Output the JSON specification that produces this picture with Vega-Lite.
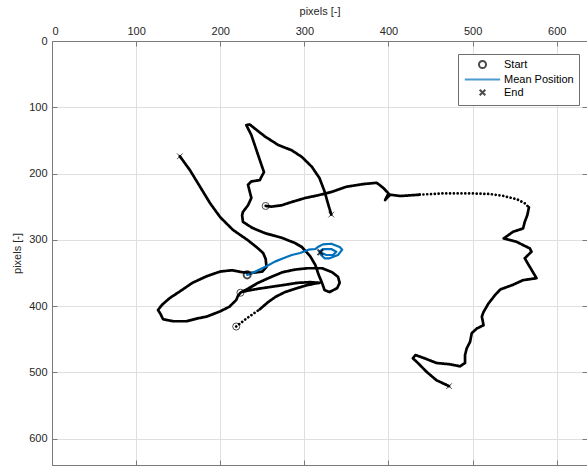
{
  "$schema": "https://vega.github.io/schema/vega-lite/v6.json",
  "width": 535,
  "height": 424,
  "autosize": {"type": "none"},
  "padding": {"left": 52, "top": 41, "right": 0, "bottom": 5},
  "background": "white",
  "config": {
    "view": {"stroke": null},
    "font": "Liberation Sans",
    "axis": {
      "labelFont": "Liberation Sans",
      "labelFontSize": 11,
      "labelColor": "#262626",
      "titleFont": "Liberation Sans",
      "titleFontSize": 11,
      "titleFontWeight": "normal",
      "titleColor": "#262626",
      "domainColor": "#7a7a7a",
      "tickColor": "#7a7a7a",
      "gridColor": "#dfdfdf",
      "tickSize": -5,
      "labelPadding": 10
    }
  },
  "datasets": {
    "tracks": [
      {"track": "A", "seg": "A1", "sampling": "dense", "i": 1, "x": 254, "y": 249},
      {"track": "A", "seg": "A1", "sampling": "dense", "i": 2, "x": 261, "y": 250},
      {"track": "A", "seg": "A1", "sampling": "dense", "i": 3, "x": 273, "y": 248},
      {"track": "A", "seg": "A1", "sampling": "dense", "i": 4, "x": 285, "y": 243},
      {"track": "A", "seg": "A1", "sampling": "dense", "i": 5, "x": 301, "y": 237},
      {"track": "A", "seg": "A1", "sampling": "dense", "i": 6, "x": 316, "y": 233},
      {"track": "A", "seg": "A1", "sampling": "dense", "i": 7, "x": 332, "y": 228},
      {"track": "A", "seg": "A1", "sampling": "dense", "i": 8, "x": 350, "y": 220},
      {"track": "A", "seg": "A1", "sampling": "dense", "i": 9, "x": 370, "y": 216},
      {"track": "A", "seg": "A1", "sampling": "dense", "i": 10, "x": 386, "y": 214},
      {"track": "A", "seg": "A1", "sampling": "dense", "i": 11, "x": 394, "y": 222},
      {"track": "A", "seg": "A1", "sampling": "dense", "i": 12, "x": 400, "y": 230},
      {"track": "A", "seg": "A1", "sampling": "dense", "i": 13, "x": 396, "y": 240},
      {"track": "A", "seg": "A1", "sampling": "dense", "i": 14, "x": 402, "y": 232},
      {"track": "A", "seg": "A1", "sampling": "dense", "i": 15, "x": 414, "y": 234},
      {"track": "A", "seg": "A1", "sampling": "dense", "i": 16, "x": 437, "y": 232},
      {"track": "A", "seg": "A2", "sampling": "sparse", "i": 16, "x": 437, "y": 232},
      {"track": "A", "seg": "A2", "sampling": "sparse", "i": 17, "x": 465, "y": 230},
      {"track": "A", "seg": "A2", "sampling": "sparse", "i": 18, "x": 497, "y": 230},
      {"track": "A", "seg": "A2", "sampling": "sparse", "i": 19, "x": 521, "y": 231},
      {"track": "A", "seg": "A2", "sampling": "sparse", "i": 20, "x": 537, "y": 234},
      {"track": "A", "seg": "A2", "sampling": "sparse", "i": 21, "x": 553, "y": 239},
      {"track": "A", "seg": "A2", "sampling": "sparse", "i": 22, "x": 562, "y": 245},
      {"track": "A", "seg": "A2", "sampling": "sparse", "i": 23, "x": 567, "y": 251},
      {"track": "A", "seg": "A3", "sampling": "dense", "i": 23, "x": 567, "y": 251},
      {"track": "A", "seg": "A3", "sampling": "dense", "i": 24, "x": 565, "y": 263},
      {"track": "A", "seg": "A3", "sampling": "dense", "i": 25, "x": 562, "y": 273},
      {"track": "A", "seg": "A3", "sampling": "dense", "i": 26, "x": 560, "y": 283},
      {"track": "A", "seg": "A3", "sampling": "dense", "i": 27, "x": 548, "y": 288},
      {"track": "A", "seg": "A3", "sampling": "dense", "i": 28, "x": 537, "y": 298},
      {"track": "A", "seg": "A3", "sampling": "dense", "i": 29, "x": 552, "y": 303},
      {"track": "A", "seg": "A3", "sampling": "dense", "i": 30, "x": 568, "y": 313},
      {"track": "A", "seg": "A3", "sampling": "dense", "i": 31, "x": 570, "y": 318},
      {"track": "A", "seg": "A3", "sampling": "dense", "i": 32, "x": 562, "y": 328},
      {"track": "A", "seg": "A3", "sampling": "dense", "i": 33, "x": 568, "y": 341},
      {"track": "A", "seg": "A3", "sampling": "dense", "i": 34, "x": 576, "y": 358},
      {"track": "A", "seg": "A3", "sampling": "dense", "i": 35, "x": 560, "y": 361},
      {"track": "A", "seg": "A3", "sampling": "dense", "i": 36, "x": 548, "y": 368},
      {"track": "A", "seg": "A3", "sampling": "dense", "i": 37, "x": 533, "y": 375},
      {"track": "A", "seg": "A3", "sampling": "dense", "i": 38, "x": 527, "y": 383},
      {"track": "A", "seg": "A3", "sampling": "dense", "i": 39, "x": 519, "y": 396},
      {"track": "A", "seg": "A3", "sampling": "dense", "i": 40, "x": 513, "y": 409},
      {"track": "A", "seg": "A3", "sampling": "dense", "i": 41, "x": 511, "y": 416},
      {"track": "A", "seg": "A3", "sampling": "dense", "i": 42, "x": 513, "y": 429},
      {"track": "A", "seg": "A3", "sampling": "dense", "i": 43, "x": 505, "y": 434},
      {"track": "A", "seg": "A3", "sampling": "dense", "i": 44, "x": 499, "y": 441},
      {"track": "A", "seg": "A3", "sampling": "dense", "i": 45, "x": 497, "y": 454},
      {"track": "A", "seg": "A3", "sampling": "dense", "i": 46, "x": 493, "y": 464},
      {"track": "A", "seg": "A3", "sampling": "dense", "i": 47, "x": 491, "y": 474},
      {"track": "A", "seg": "A3", "sampling": "dense", "i": 48, "x": 491, "y": 486},
      {"track": "A", "seg": "A3", "sampling": "dense", "i": 49, "x": 485, "y": 491},
      {"track": "A", "seg": "A3", "sampling": "dense", "i": 50, "x": 473, "y": 488},
      {"track": "A", "seg": "A3", "sampling": "dense", "i": 51, "x": 457, "y": 486},
      {"track": "A", "seg": "A3", "sampling": "dense", "i": 52, "x": 443, "y": 479},
      {"track": "A", "seg": "A3", "sampling": "dense", "i": 53, "x": 432, "y": 474},
      {"track": "A", "seg": "A3", "sampling": "dense", "i": 54, "x": 429, "y": 479},
      {"track": "A", "seg": "A3", "sampling": "dense", "i": 55, "x": 435, "y": 486},
      {"track": "A", "seg": "A3", "sampling": "dense", "i": 56, "x": 445, "y": 499},
      {"track": "A", "seg": "A3", "sampling": "dense", "i": 57, "x": 457, "y": 512},
      {"track": "A", "seg": "A3", "sampling": "dense", "i": 58, "x": 472, "y": 521},

      {"track": "B", "seg": "B1", "sampling": "dense", "i": 1, "x": 224, "y": 380},
      {"track": "B", "seg": "B1", "sampling": "dense", "i": 2, "x": 221, "y": 385},
      {"track": "B", "seg": "B1", "sampling": "dense", "i": 3, "x": 219, "y": 391},
      {"track": "B", "seg": "B1", "sampling": "dense", "i": 4, "x": 211, "y": 401},
      {"track": "B", "seg": "B1", "sampling": "dense", "i": 5, "x": 200, "y": 408},
      {"track": "B", "seg": "B1", "sampling": "dense", "i": 6, "x": 184, "y": 416},
      {"track": "B", "seg": "B1", "sampling": "dense", "i": 7, "x": 172, "y": 419},
      {"track": "B", "seg": "B1", "sampling": "dense", "i": 8, "x": 160, "y": 423},
      {"track": "B", "seg": "B1", "sampling": "dense", "i": 9, "x": 144, "y": 423},
      {"track": "B", "seg": "B1", "sampling": "dense", "i": 10, "x": 132, "y": 420},
      {"track": "B", "seg": "B1", "sampling": "dense", "i": 11, "x": 129, "y": 412},
      {"track": "B", "seg": "B1", "sampling": "dense", "i": 12, "x": 126, "y": 406},
      {"track": "B", "seg": "B1", "sampling": "dense", "i": 13, "x": 131, "y": 398},
      {"track": "B", "seg": "B1", "sampling": "dense", "i": 14, "x": 140, "y": 388},
      {"track": "B", "seg": "B1", "sampling": "dense", "i": 15, "x": 152, "y": 378},
      {"track": "B", "seg": "B1", "sampling": "dense", "i": 16, "x": 167, "y": 365},
      {"track": "B", "seg": "B1", "sampling": "dense", "i": 17, "x": 184, "y": 355},
      {"track": "B", "seg": "B1", "sampling": "dense", "i": 18, "x": 200, "y": 348},
      {"track": "B", "seg": "B1", "sampling": "dense", "i": 19, "x": 214, "y": 346},
      {"track": "B", "seg": "B1", "sampling": "dense", "i": 20, "x": 226, "y": 349},
      {"track": "B", "seg": "B1", "sampling": "dense", "i": 21, "x": 238, "y": 350},
      {"track": "B", "seg": "B1", "sampling": "dense", "i": 22, "x": 250, "y": 348},
      {"track": "B", "seg": "B1", "sampling": "dense", "i": 23, "x": 255, "y": 341},
      {"track": "B", "seg": "B1", "sampling": "dense", "i": 24, "x": 254, "y": 329},
      {"track": "B", "seg": "B1", "sampling": "dense", "i": 25, "x": 251, "y": 320},
      {"track": "B", "seg": "B1", "sampling": "dense", "i": 26, "x": 244, "y": 312},
      {"track": "B", "seg": "B1", "sampling": "dense", "i": 27, "x": 232, "y": 300},
      {"track": "B", "seg": "B1", "sampling": "dense", "i": 28, "x": 215, "y": 285},
      {"track": "B", "seg": "B1", "sampling": "dense", "i": 29, "x": 200, "y": 266},
      {"track": "B", "seg": "B1", "sampling": "dense", "i": 30, "x": 188, "y": 245},
      {"track": "B", "seg": "B1", "sampling": "dense", "i": 31, "x": 176, "y": 220},
      {"track": "B", "seg": "B1", "sampling": "dense", "i": 32, "x": 164, "y": 195},
      {"track": "B", "seg": "B1", "sampling": "dense", "i": 33, "x": 152, "y": 174},

      {"track": "C", "seg": "C1", "sampling": "sparse", "i": 1, "x": 219, "y": 431},
      {"track": "C", "seg": "C1", "sampling": "sparse", "i": 2, "x": 223, "y": 427},
      {"track": "C", "seg": "C1", "sampling": "sparse", "i": 3, "x": 230, "y": 420},
      {"track": "C", "seg": "C1", "sampling": "sparse", "i": 4, "x": 239, "y": 412},
      {"track": "C", "seg": "C1", "sampling": "sparse", "i": 5, "x": 247, "y": 405},
      {"track": "C", "seg": "C2", "sampling": "dense", "i": 5, "x": 247, "y": 405},
      {"track": "C", "seg": "C2", "sampling": "dense", "i": 6, "x": 257, "y": 394},
      {"track": "C", "seg": "C2", "sampling": "dense", "i": 7, "x": 266, "y": 386},
      {"track": "C", "seg": "C2", "sampling": "dense", "i": 8, "x": 277, "y": 379},
      {"track": "C", "seg": "C2", "sampling": "dense", "i": 9, "x": 289, "y": 374},
      {"track": "C", "seg": "C2", "sampling": "dense", "i": 10, "x": 302, "y": 369},
      {"track": "C", "seg": "C2", "sampling": "dense", "i": 11, "x": 313, "y": 366},
      {"track": "C", "seg": "C2", "sampling": "dense", "i": 12, "x": 318, "y": 365},
      {"track": "C", "seg": "C2", "sampling": "dense", "i": 13, "x": 307, "y": 364},
      {"track": "C", "seg": "C2", "sampling": "dense", "i": 14, "x": 292, "y": 365},
      {"track": "C", "seg": "C2", "sampling": "dense", "i": 15, "x": 277, "y": 368},
      {"track": "C", "seg": "C2", "sampling": "dense", "i": 16, "x": 261, "y": 371},
      {"track": "C", "seg": "C2", "sampling": "dense", "i": 17, "x": 245, "y": 374},
      {"track": "C", "seg": "C2", "sampling": "dense", "i": 18, "x": 232, "y": 377},
      {"track": "C", "seg": "C2", "sampling": "dense", "i": 19, "x": 225, "y": 379},
      {"track": "C", "seg": "C2", "sampling": "dense", "i": 20, "x": 233, "y": 374},
      {"track": "C", "seg": "C2", "sampling": "dense", "i": 21, "x": 245, "y": 365},
      {"track": "C", "seg": "C2", "sampling": "dense", "i": 22, "x": 259, "y": 357},
      {"track": "C", "seg": "C2", "sampling": "dense", "i": 23, "x": 274, "y": 349},
      {"track": "C", "seg": "C2", "sampling": "dense", "i": 24, "x": 289, "y": 345},
      {"track": "C", "seg": "C2", "sampling": "dense", "i": 25, "x": 304, "y": 343},
      {"track": "C", "seg": "C2", "sampling": "dense", "i": 26, "x": 321, "y": 343},
      {"track": "C", "seg": "C2", "sampling": "dense", "i": 27, "x": 333, "y": 349},
      {"track": "C", "seg": "C2", "sampling": "dense", "i": 28, "x": 340, "y": 356},
      {"track": "C", "seg": "C2", "sampling": "dense", "i": 29, "x": 342, "y": 365},
      {"track": "C", "seg": "C2", "sampling": "dense", "i": 30, "x": 339, "y": 373},
      {"track": "C", "seg": "C2", "sampling": "dense", "i": 31, "x": 330, "y": 379},
      {"track": "C", "seg": "C2", "sampling": "dense", "i": 32, "x": 324, "y": 376},
      {"track": "C", "seg": "C2", "sampling": "dense", "i": 33, "x": 321, "y": 365},
      {"track": "C", "seg": "C2", "sampling": "dense", "i": 34, "x": 317, "y": 353},
      {"track": "C", "seg": "C2", "sampling": "dense", "i": 35, "x": 313, "y": 338},
      {"track": "C", "seg": "C2", "sampling": "dense", "i": 36, "x": 307, "y": 325},
      {"track": "C", "seg": "C2", "sampling": "dense", "i": 37, "x": 297, "y": 311},
      {"track": "C", "seg": "C2", "sampling": "dense", "i": 38, "x": 289, "y": 305},
      {"track": "C", "seg": "C2", "sampling": "dense", "i": 39, "x": 273, "y": 297},
      {"track": "C", "seg": "C2", "sampling": "dense", "i": 40, "x": 253, "y": 290},
      {"track": "C", "seg": "C2", "sampling": "dense", "i": 41, "x": 238, "y": 282},
      {"track": "C", "seg": "C2", "sampling": "dense", "i": 42, "x": 227, "y": 273},
      {"track": "C", "seg": "C2", "sampling": "dense", "i": 43, "x": 226, "y": 263},
      {"track": "C", "seg": "C2", "sampling": "dense", "i": 44, "x": 227, "y": 258},
      {"track": "C", "seg": "C2", "sampling": "dense", "i": 45, "x": 233, "y": 248},
      {"track": "C", "seg": "C2", "sampling": "dense", "i": 46, "x": 237, "y": 237},
      {"track": "C", "seg": "C2", "sampling": "dense", "i": 47, "x": 235, "y": 227},
      {"track": "C", "seg": "C2", "sampling": "dense", "i": 48, "x": 233, "y": 217},
      {"track": "C", "seg": "C2", "sampling": "dense", "i": 49, "x": 237, "y": 212},
      {"track": "C", "seg": "C2", "sampling": "dense", "i": 50, "x": 247, "y": 210},
      {"track": "C", "seg": "C2", "sampling": "dense", "i": 51, "x": 249, "y": 205},
      {"track": "C", "seg": "C2", "sampling": "dense", "i": 52, "x": 252, "y": 198},
      {"track": "C", "seg": "C2", "sampling": "dense", "i": 53, "x": 249, "y": 187},
      {"track": "C", "seg": "C2", "sampling": "dense", "i": 54, "x": 245, "y": 172},
      {"track": "C", "seg": "C2", "sampling": "dense", "i": 55, "x": 241, "y": 157},
      {"track": "C", "seg": "C2", "sampling": "dense", "i": 56, "x": 237, "y": 142},
      {"track": "C", "seg": "C2", "sampling": "dense", "i": 57, "x": 233, "y": 132},
      {"track": "C", "seg": "C2", "sampling": "dense", "i": 58, "x": 231, "y": 127},
      {"track": "C", "seg": "C2", "sampling": "dense", "i": 59, "x": 235, "y": 126},
      {"track": "C", "seg": "C2", "sampling": "dense", "i": 60, "x": 243, "y": 134},
      {"track": "C", "seg": "C2", "sampling": "dense", "i": 61, "x": 253, "y": 144},
      {"track": "C", "seg": "C2", "sampling": "dense", "i": 62, "x": 269, "y": 157},
      {"track": "C", "seg": "C2", "sampling": "dense", "i": 63, "x": 285, "y": 165},
      {"track": "C", "seg": "C2", "sampling": "dense", "i": 64, "x": 297, "y": 175},
      {"track": "C", "seg": "C2", "sampling": "dense", "i": 65, "x": 309, "y": 190},
      {"track": "C", "seg": "C2", "sampling": "dense", "i": 66, "x": 318, "y": 207},
      {"track": "C", "seg": "C2", "sampling": "dense", "i": 67, "x": 324, "y": 227},
      {"track": "C", "seg": "C2", "sampling": "dense", "i": 68, "x": 328, "y": 245},
      {"track": "C", "seg": "C2", "sampling": "dense", "i": 69, "x": 332, "y": 262}
    ],
    "mean": [
      {"series": "Mean Position", "i": 1, "x": 232, "y": 353},
      {"series": "Mean Position", "i": 2, "x": 237, "y": 351},
      {"series": "Mean Position", "i": 3, "x": 245, "y": 346},
      {"series": "Mean Position", "i": 4, "x": 255, "y": 340},
      {"series": "Mean Position", "i": 5, "x": 265, "y": 333},
      {"series": "Mean Position", "i": 6, "x": 275, "y": 328},
      {"series": "Mean Position", "i": 7, "x": 285, "y": 323},
      {"series": "Mean Position", "i": 8, "x": 295, "y": 320},
      {"series": "Mean Position", "i": 9, "x": 305, "y": 315},
      {"series": "Mean Position", "i": 10, "x": 313, "y": 314},
      {"series": "Mean Position", "i": 11, "x": 316, "y": 311},
      {"series": "Mean Position", "i": 12, "x": 322, "y": 307},
      {"series": "Mean Position", "i": 13, "x": 332, "y": 306},
      {"series": "Mean Position", "i": 14, "x": 342, "y": 311},
      {"series": "Mean Position", "i": 15, "x": 345, "y": 315},
      {"series": "Mean Position", "i": 16, "x": 340, "y": 323},
      {"series": "Mean Position", "i": 17, "x": 330, "y": 328},
      {"series": "Mean Position", "i": 18, "x": 324, "y": 328},
      {"series": "Mean Position", "i": 19, "x": 320, "y": 323},
      {"series": "Mean Position", "i": 20, "x": 318, "y": 318},
      {"series": "Mean Position", "i": 21, "x": 322, "y": 314},
      {"series": "Mean Position", "i": 22, "x": 332, "y": 314},
      {"series": "Mean Position", "i": 23, "x": 338, "y": 318},
      {"series": "Mean Position", "i": 24, "x": 334, "y": 323},
      {"series": "Mean Position", "i": 25, "x": 326, "y": 323},
      {"series": "Mean Position", "i": 26, "x": 319, "y": 319}
    ],
    "markers": [
      {"series": "Start", "kind": "track", "x": 254, "y": 249},
      {"series": "Start", "kind": "track", "x": 224, "y": 380},
      {"series": "Start", "kind": "track", "x": 219, "y": 431},
      {"series": "Start", "kind": "mean", "x": 232, "y": 353},
      {"series": "End", "kind": "track", "x": 152, "y": 174},
      {"series": "End", "kind": "track", "x": 332, "y": 262},
      {"series": "End", "kind": "track", "x": 472, "y": 521},
      {"series": "End", "kind": "mean", "x": 319, "y": 319}
    ]
  },
  "layer": [
    {
      "data": {"name": "tracks"},
      "mark": {"type": "line", "color": "black", "strokeWidth": 2.7, "strokeCap": "round", "strokeJoin": "round"},
      "encoding": {
        "x": {
          "field": "x", "type": "quantitative",
          "scale": {"domain": [0, 636], "nice": false, "zero": false},
          "axis": {"orient": "top", "title": "pixels [-]", "values": [0, 100, 200, 300, 400, 500, 600], "grid": true, "titlePadding": 9}
        },
        "y": {
          "field": "y", "type": "quantitative",
          "scale": {"domain": [0, 640], "nice": false, "zero": false, "reverse": true},
          "axis": {"orient": "left", "title": "pixels [-]", "values": [0, 100, 200, 300, 400, 500, 600], "grid": true, "titlePadding": 6}
        },
        "detail": {"field": "seg"},
        "order": {"field": "i", "type": "quantitative"},
        "strokeDash": {
          "field": "sampling", "type": "nominal",
          "scale": {"domain": ["dense", "sparse"], "range": [[1, 0], [0.01, 3.8]]},
          "legend": null
        }
      }
    },
    {
      "data": {"name": "mean"},
      "mark": {"type": "line", "strokeWidth": 2.2, "strokeCap": "round", "strokeJoin": "round"},
      "encoding": {
        "x": {
          "field": "x", "type": "quantitative",
          "axis": {"orient": "bottom", "title": null, "labels": false, "grid": false, "values": [0, 100, 200, 300, 400, 500, 600]}
        },
        "y": {
          "field": "y", "type": "quantitative",
          "axis": {"orient": "right", "title": null, "labels": false, "grid": false, "values": [0, 100, 200, 300, 400, 500, 600]}
        },
        "order": {"field": "i", "type": "quantitative"},
        "color": {
          "field": "series", "type": "nominal",
          "scale": {"domain": ["Start", "Mean Position", "End"], "range": ["#000000", "#0072BD", "#000000"]},
          "legend": {
            "title": null, "orient": "none", "legendX": 406, "legendY": 13,
            "fillColor": "white", "strokeColor": "#6e6e6e", "padding": 5,
            "labelFontSize": 11, "labelColor": "black", "labelFont": "Liberation Sans",
            "symbolSize": 50, "symbolStrokeWidth": 2, "symbolOffset": 14, "labelOffset": 16, "rowPadding": 0
          }
        }
      }
    },
    {
      "data": {"name": "markers"},
      "mark": {"type": "point", "filled": false, "size": 50},
      "encoding": {
        "x": {"field": "x", "type": "quantitative", "axis": null},
        "y": {"field": "y", "type": "quantitative", "axis": null},
        "color": {
          "field": "series", "type": "nominal",
          "scale": {"domain": ["Start", "Mean Position", "End"], "range": ["#000000", "#0072BD", "#000000"]}
        },
        "shape": {
          "field": "series", "type": "nominal",
          "scale": {"domain": ["Start", "Mean Position", "End"], "range": ["circle", "M-5,0L5,0", "M-0.8,-0.8L0.8,0.8M-0.8,0.8L0.8,-0.8"]}
        },
        "strokeWidth": {
          "field": "kind", "type": "nominal",
          "scale": {"domain": ["track", "mean"], "range": [1, 2]},
          "legend": null
        }
      }
    }
  ],
  "resolve": {"axis": {"x": "independent", "y": "independent"}}
}
